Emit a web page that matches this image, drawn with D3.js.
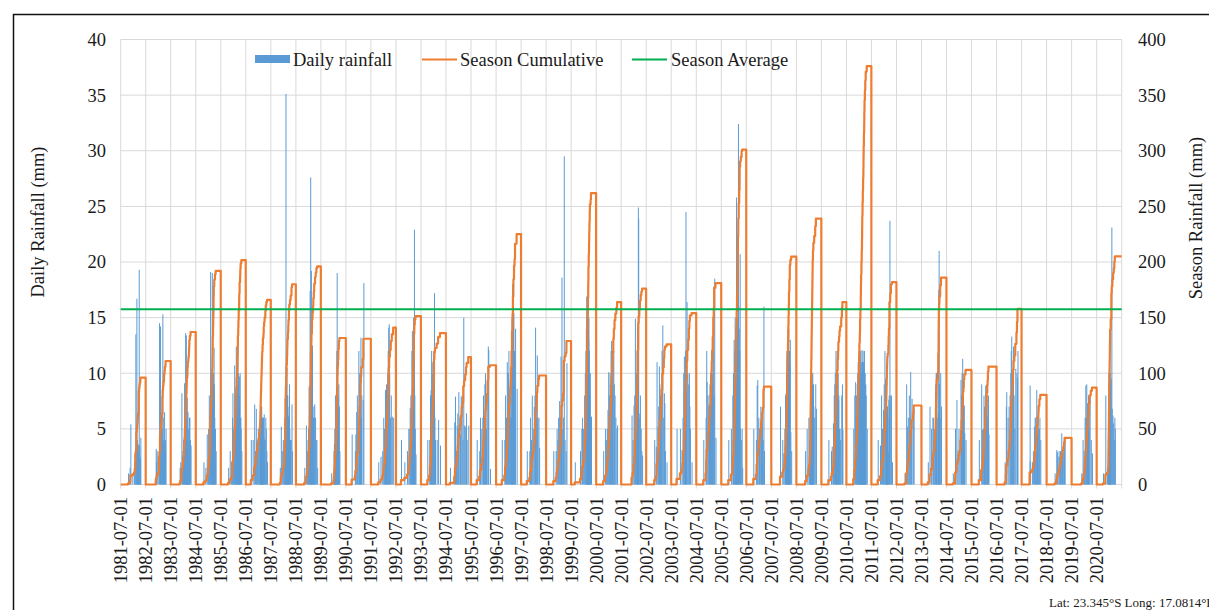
<!DOCTYPE html>
<html>
<head>
<meta charset="utf-8">
<script src="https://cdn.jsdelivr.net/npm/d3@7"></script>
<style>
  body { margin: 0; background: #fff; }
  svg { display: block; font-family: "Liberation Serif", "Times New Roman", serif; }
</style>
</head>
<body>
<svg id="chart" width="1209" height="610"></svg>
<script>
// season start years (each season runs 1 July -> 30 June)
const seasonYears = [1981, 1982, 1983, 1984, 1985, 1986, 1987, 1988, 1989, 1990,
  1991, 1992, 1993, 1994, 1995, 1996, 1997, 1998, 1999, 2000,
  2001, 2002, 2003, 2004, 2005, 2006, 2007, 2008, 2009, 2010,
  2011, 2012, 2013, 2014, 2015, 2016, 2017, 2018, 2019, 2020];

// rain days per season: [days after 1 July, mm]
const seasonRain = [
  [[107,1],[130,1.5],[141,5.4],[170,1],[195,2],[205,3],[214,13.5],[222,3],[229,16.7],[236,4],[243,3.5],[248,3],[250,3.6],[255,3],[263,19.3],[270,3.5],[275,2.5],[280,2.3],[287,4.2]],
  [[146,3.2],[150,2],[160,3],[175,2.5],[195,14.5],[200,4],[209,14.2],[215,5],[222,6],[230,4],[235,5],[243,15.3],[248,6],[253,3.8],[260,4],[268,6.5],[275,3],[280,4],[290,5]],
  [[130,1.5],[140,2],[156,8.2],[165,2.5],[172,3],[180,4],[190,5],[195,9.1],[200,3],[203,3.5],[210,13.6],[215,5],[221,13.4],[225,4],[228,4],[232,6],[235,7.8],[242,3],[245,6.5],[250,5],[258,4],[265,3.5],[268,6],[272,6],[280,4],[290,3.5]],
  [[112,2],[140,1.5],[160,4.5],[175,2],[180,5],[190,8],[200,4],[205,6],[209,19.1],[214,10],[220,8.5],[226,6],[234,19],[240,9],[244,10],[246,8],[248,10],[252,9.1],[255,8],[258,7],[260,12.3],[263,9],[270,6],[280,5],[290,3]],
  [[107,1.5],[130,3],[150,2],[165,6],[170,8.2],[180,5],[187,4],[195,10.7],[200,6],[205,7],[212,5],[215,8],[219,12.4],[225,8],[232,9],[238,6],[243,13.2],[247,9],[250,10],[255,7],[258,7],[262,8],[268,9.7],[270,6],[275,10],[282,6],[285,6],[290,5],[300,3]],
  [[73,4],[100,4],[122,7.2],[135,3],[146,6.8],[155,4],[165,3],[175,5],[185,4],[195,5.5],[205,6],[210,6],[213,7],[216,6],[219,7],[222,6],[225,7],[228,6],[231,6],[234,6],[237,6],[240,4],[245,6],[250,6],[258,4.2],[262,6.3],[268,4],[275,4],[285,6],[292,5],[300,3],[310,2]],
  [[131,1.5],[146,5.2],[160,3],[175,4],[185,3.5],[195,6],[200,5],[205,8],[210,6],[214,35.1],[220,10.8],[225,9],[229,10.5],[236,8],[240,8],[243,7],[250,6],[255,6.2],[258,5],[265,9],[270,5],[280,4],[290,4],[302,7.2],[310,3]],
  [[122,1.5],[146,5.3],[160,3],[170,4],[178,5],[185,8.8],[192,7],[200,17.4],[205,9],[209,27.6],[214,12],[219,19.2],[225,8],[228,8],[235,12.5],[243,6],[250,6],[255,7],[262,6],[268,7.2],[280,6],[290,4],[300,4],[310,1.5]],
  [[150,1],[184,3],[190,3.6],[195,5],[200,3.6],[205,8],[210,4],[215,3.6],[220,8.7],[225,12],[230,19],[235,10],[240,9],[242,8],[245,8],[250,6.2],[255,9],[262,7],[270,3]],
  [[84,4.5],[130,3],[138,4.5],[150,6.5],[160,8],[170,2.6],[182,12],[190,9],[195,10],[200,10],[208,8],[212,13.2],[219,6],[225,8],[245,7.6],[255,18.1]],
  [[107,2],[140,2.5],[165,3],[180,6],[190,5],[205,8.5],[210,5.6],[220,9],[225,8],[230,4.8],[238,10],[245,12],[253,14.1],[260,14.4],[267,10],[277,6],[290,8],[305,6.1],[325,6]],
  [[73,4],[122,2],[160,3],[180,5],[195,5],[200,6.9],[210,8],[218,6],[225,12],[232,13.8],[238,10],[243,10],[250,15],[255,12],[262,22.9],[268,8],[275,5],[285,2.7]],
  [[92,4],[120,4],[131,8],[140,8.5],[148,12],[152,8],[156,11],[165,10],[172,8],[180,12],[186,10],[190,17.2],[196,6],[204,4],[229,4],[250,5.8],[277,3.5]],
  [[58,1.5],[120,5.6],[131,7.9],[145,3],[155,5.3],[165,6.4],[172,5],[180,8.3],[195,6],[205,4.5],[215,7.9],[229,8],[240,4],[252,15],[265,5.3],[280,5.2],[292,6.4],[301,4],[325,5.3]],
  [[83,4],[120,3],[131,6],[150,5],[165,6],[175,8],[180,5.2],[185,4.8],[195,9],[204,10],[212,6],[220,5],[229,9.3],[245,12.4],[252,12.1],[277,1.4]],
  [[83,4],[120,4],[131,8],[145,6],[156,11],[165,10],[172,10],[180,12],[190,8],[200,8],[207,6],[214,6],[220,12],[226,15],[233,18],[240,15],[246,16],[253,15.4],[262,12],[270,6],[277,14],[300,8.6]],
  [[83,3],[120,3],[131,6],[145,4],[156,8],[170,5],[185,7],[195,8],[204,14.1],[212,7],[220,6],[229,11.6],[238,6],[253,6],[263,3.3]],
  [[105,3],[140,3],[153,5],[165,4],[175,6],[190,7.5],[200,6],[210,11.5],[218,6],[224,18.6],[235,5],[248,6],[258,29.5],[270,4],[285,3],[297,10.9]],
  [[54,2],[130,3],[150,5],[160,6],[175,5],[190,8],[200,10],[209,12],[215,14],[220,16.9],[225,15],[230,14],[233,12],[238,15],[242,16],[246,14],[250,13],[253,15],[258,12],[262,10],[265,10],[268,8],[272,10],[275,6],[285,4],[290,6.1]],
  [[102,3],[130,5],[145,4],[155,5],[165,6.7],[175,10.1],[185,8],[195,10],[200,9],[210,12],[218,12.9],[225,10],[232,12],[240,11],[250,12],[258,9],[268,8],[280,6],[295,5],[305,5.3]],
  [[151,6.2],[165,4],[180,7.1],[190,8],[200,14.9],[210,8],[218,10],[224,12],[230,14],[238,12],[243,24.9],[248,23.9],[255,6],[265,6.4],[273,8],[285,5],[295,3],[305,2.6]],
  [[117,4],[140,3.4],[151,11],[165,5.2],[175,7],[185,10.6],[192,9],[200,8],[210,8],[218,7],[224,12],[235,14.3],[248,6],[258,8.2],[265,7.3],[273,3],[297,2]],
  [[78,5],[127,5],[150,3.1],[165,6],[175,10],[185,11.5],[195,9],[202,12],[208,24.5],[215,8.5],[224,16.4],[235,10],[248,9],[258,10],[265,7],[273,5],[297,2]],
  [[102,4],[136,6],[145,12],[151,9.2],[165,8],[175,7.1],[185,6],[192,9],[200,10],[210,9.2],[218,12],[222,9],[226,9],[232,10],[240,12],[248,17.8],[255,8],[262,18.5],[280,4.2]],
  [[102,4],[140,5],[161,8],[170,10],[180,13],[190,12],[195,15],[200,12],[205,14],[210,13],[215,25.8],[220,11.6],[224,12],[230,15],[238,20],[243,32.4],[248,16],[255,14],[262,12],[268,20.7],[275,5],[285,4],[297,5],[305,1.5]],
  [[102,5],[140,4],[151,8.9],[160,9.4],[175,6],[185,5],[195,4.7],[205,7],[215,6],[224,2],[230,6],[235,1],[240,4],[250,16],[258,3]],
  [[127,7],[160,4],[175,2.8],[190,5],[200,8],[208,8.2],[214,10],[220,12],[224,11.3],[230,13],[233,10],[236,13.9],[240,12],[244,11],[248,14],[252,10],[255,9],[258,12],[264,11],[270,13],[278,4.7],[290,3]],
  [[127,3],[150,5],[175,6],[185,4],[195,6],[200,8.3],[202,9],[204,8],[206,10],[208,9],[210,8],[212,9],[214,10],[216,8],[218,9],[220,9],[222,10],[224,8],[226,9],[228,9],[230,8],[232,10],[234,9],[236,8],[238,9],[242,8.9],[248,7],[260,6],[275,9],[285,6.8]],
  [[102,4],[140,3],[151,3.4],[170,5.5],[180,8],[188,9],[195,10],[200,8],[205,12],[212,10],[218,8.6],[224,12],[230,9],[238,10],[244,7.6],[248,8],[258,5],[265,5],[273,4],[290,8],[300,9],[307,4.9]],
  [[100,5],[115,8],[127,9.2],[135,6],[142,8],[151,9],[158,10],[160,9],[165,11],[172,9],[178,12],[184,10],[186,10],[190,11],[196,9.5],[200,12],[205,10],[210,11],[212,10],[215,9],[220,12.1],[224,10],[228,11],[230,11],[232,9],[236,12],[240,10.4],[244,11],[248,9],[250,10],[252,10],[256,12],[260,9],[262,10],[265,10],[270,8.9],[276,9],[282,8],[297,5]],
  [[92,4],[125,3.5],[141,8],[155,5],[170,6.7],[180,9],[190,12],[200,9.5],[207,8],[214,9],[218,7],[221,7],[224,7],[227,7],[229,6],[232,6],[238,3],[248,7.6],[252,8],[256,7],[263,23.7],[275,8],[285,8],[300,2]],
  [[117,1],[141,9],[155,5.2],[165,6],[180,8],[190,6],[200,10.1],[210,5],[220,7.7],[239,6.2],[250,6.8]],
  [[92,2],[117,7],[140,5],[160,6],[165,6],[175,4],[188,5],[192,5],[200,9],[207,10],[211,10],[214,9],[218,10],[222,6],[239,6.5],[245,17.5],[250,21],[252,9],[254,9],[258,6],[262,6],[273,10],[285,7]],
  [[92,1],[124,5],[128,5],[145,7.6],[160,3],[175,5],[190,4],[204,9.4],[212,8],[220,10],[229,11.3],[235,6],[240,8],[248,4],[253,7.1],[260,4.6],[278,4]],
  [[107,4],[141,9],[155,4.9],[165,5],[175,8],[183,7],[185,5],[190,6],[200,8.9],[207,8],[214,9],[222,7.6],[230,6.1],[235,5],[240,8],[248,4.5]],
  [[117,2],[135,7],[141,8.3],[160,6],[175,7],[190,8],[200,10],[207,12],[214,13.3],[222,9],[230,8],[240,12.4],[248,8],[260,5],[273,10.4],[290,10],[298,9.6],[305,12]],
  [[117,8.9],[118,2.1],[150,2],[165,3],[180,5.2],[190,6],[200,6],[205,2.9],[214,8.5],[223,4.5],[227,4.5],[235,7],[246,5],[250,5],[260,6],[273,4]],
  [[117,1],[141,3.1],[150,2.9],[160,2.5],[175,3],[185,2.5],[195,3],[205,2.4],[214,4.6],[225,3],[235,2.8],[245,3],[255,4],[263,4.2]],
  [[141,1],[160,4],[175,3],[180,2],[190,6],[200,8.9],[207,6],[214,9],[225,7.3],[230,5],[239,8],[245,5],[250,7],[263,8],[280,4],[297,2.8]],
  [[92,1],[126,8],[150,1.5],[165,2.5],[170,8],[172,10],[174,9],[176,7],[178,11],[180,9],[182,8],[184,10],[186,9],[188,8],[190,9],[192,10],[194,9],[196,9],[205,9.5],[214,23.1],[220,6.8],[230,6.2],[240,5.5],[250,4],[258,6],[265,5]]
];

const leftTicks = [0, 5, 10, 15, 20, 25, 30, 35, 40];
const rightTicks = [0, 50, 100, 150, 200, 250, 300, 350, 400];
const legendLabels = ["Daily rainfall", "Season Cumulative", "Season Average"];
const axisTitles = ["Daily Rainfall (mm)", "Season Rainfall (mm)"];
const noteText = "Lat: 23.345°S Long: 17.0814°E";

const colors = { rain: "#5b9bd5", cum: "#ed7d31", avg: "#00b050", grid: "#d9d9d9", text: "#1a1a1a" };
const fontSize = 18.5;

const svg = d3.select("#chart");
const plot = { left: 120.7, right: 1121.7, top: 39.5, bottom: 484.5 };

// build the daily series and the running total inside each season
const DAY = 864e5;
const days = [];
const seasonTotals = [];
seasonYears.forEach((yr, i) => {
  const start = Date.UTC(yr, 6, 1);
  const n = Math.round((Date.UTC(yr + 1, 6, 1) - start) / DAY);
  const rain = new Array(n).fill(0);
  seasonRain[i].forEach(([d, mm]) => { rain[d] += mm; });
  let cum = 0;
  for (let k = 0; k < n; k++) {
    cum += rain[k];
    days.push({ date: new Date(start + k * DAY), rain: rain[k], cum: cum });
  }
  seasonTotals.push(cum);
});
const seasonAverage = d3.mean(seasonTotals);

const tickDates = seasonYears.map(yr => new Date(Date.UTC(yr, 6, 1)));
const endDate = new Date(Date.UTC(seasonYears[seasonYears.length - 1] + 1, 6, 1));

const x = d3.scaleUtc()
  .domain([tickDates[0], endDate])
  .range([plot.left, plot.right]);
const yL = d3.scaleLinear().domain([0, 40]).range([plot.bottom, plot.top]);
const yR = d3.scaleLinear().domain([0, 400]).range([plot.bottom, plot.top]);

// outer chart border (runs off the right and bottom of the picture)
svg.append("rect")
  .attr("x", 13.5).attr("y", 14.5)
  .attr("width", 1400).attr("height", 800)
  .attr("fill", "none").attr("stroke", "#111").attr("stroke-width", 1.5);

// gridlines
const grid = svg.append("g");
grid.selectAll(".hgrid")
  .data(leftTicks)
  .enter().append("line")
  .attr("x1", plot.left).attr("x2", plot.right)
  .attr("y1", d => yL(d)).attr("y2", d => yL(d))
  .attr("stroke", colors.grid).attr("stroke-width", 1);
grid.selectAll(".vgrid")
  .data(tickDates.concat([endDate]))
  .enter().append("line")
  .attr("x1", d => x(d)).attr("x2", d => x(d))
  .attr("y1", plot.top).attr("y2", plot.bottom + 4)
  .attr("stroke", colors.grid).attr("stroke-width", 1);

// daily rainfall bars
svg.append("g")
  .selectAll("rect")
  .data(days.filter(d => d.rain > 0))
  .enter().append("rect")
  .attr("x", d => x(d.date))
  .attr("y", d => yL(d.rain))
  .attr("width", 1)
  .attr("height", d => yL(0) - yL(d.rain))
  .attr("fill", colors.rain);

// season cumulative line
const cumLine = d3.line()
  .x(d => x(d.date))
  .y(d => yR(d.cum));
svg.append("path")
  .datum(days)
  .attr("d", cumLine)
  .attr("fill", "none")
  .attr("stroke", colors.cum)
  .attr("stroke-width", 2.2)
  .attr("stroke-linejoin", "round");

// season average
svg.append("line")
  .attr("x1", plot.left).attr("x2", plot.right)
  .attr("y1", yR(seasonAverage)).attr("y2", yR(seasonAverage))
  .attr("stroke", colors.avg).attr("stroke-width", 2.2);

// left axis labels
svg.append("g")
  .selectAll("text")
  .data(leftTicks)
  .enter().append("text")
  .attr("x", 106).attr("y", d => yL(d))
  .attr("dy", "0.35em")
  .attr("text-anchor", "end")
  .attr("font-size", fontSize).attr("fill", colors.text)
  .text(d => d);

// right axis labels
svg.append("g")
  .selectAll("text")
  .data(rightTicks)
  .enter().append("text")
  .attr("x", 1138).attr("y", d => yR(d))
  .attr("dy", "0.35em")
  .attr("font-size", fontSize).attr("fill", colors.text)
  .text(d => d);

// x labels, rotated
const fmt = d3.utcFormat("%Y-%m-%d");
svg.append("g")
  .selectAll("text")
  .data(tickDates)
  .enter().append("text")
  .attr("transform", d => "translate(" + x(d) + ",497) rotate(-90)")
  .attr("dy", "0.35em")
  .attr("text-anchor", "end")
  .attr("font-size", fontSize).attr("fill", colors.text)
  .text(d => fmt(d));

// axis titles
svg.append("text")
  .attr("transform", "translate(38,222) rotate(-90)")
  .attr("dy", "0.35em")
  .attr("text-anchor", "middle")
  .attr("font-size", fontSize).attr("fill", colors.text)
  .text(axisTitles[0]);
svg.append("text")
  .attr("transform", "translate(1196,218) rotate(-90)")
  .attr("dy", "0.35em")
  .attr("text-anchor", "middle")
  .attr("font-size", fontSize).attr("fill", colors.text)
  .text(axisTitles[1]);

// legend
const legend = svg.append("g");
legend.append("rect")
  .attr("x", 255).attr("y", 55).attr("width", 35).attr("height", 8)
  .attr("fill", colors.rain);
legend.append("line")
  .attr("x1", 422).attr("x2", 457).attr("y1", 59.5).attr("y2", 59.5)
  .attr("stroke", colors.cum).attr("stroke-width", 2.2);
legend.append("line")
  .attr("x1", 632).attr("x2", 667).attr("y1", 59.5).attr("y2", 59.5)
  .attr("stroke", colors.avg).attr("stroke-width", 2.2);
legend.selectAll("text")
  .data(legendLabels)
  .enter().append("text")
  .attr("x", (d, i) => [293, 460, 671][i])
  .attr("y", 66)
  .attr("font-size", fontSize).attr("fill", colors.text)
  .text(d => d);

// station note, bottom right (cut by the picture edge, as in the original)
svg.append("text")
  .attr("x", 1049).attr("y", 607)
  .attr("font-size", 13).attr("fill", colors.text)
  .text(noteText);
</script>
</body>
</html>
